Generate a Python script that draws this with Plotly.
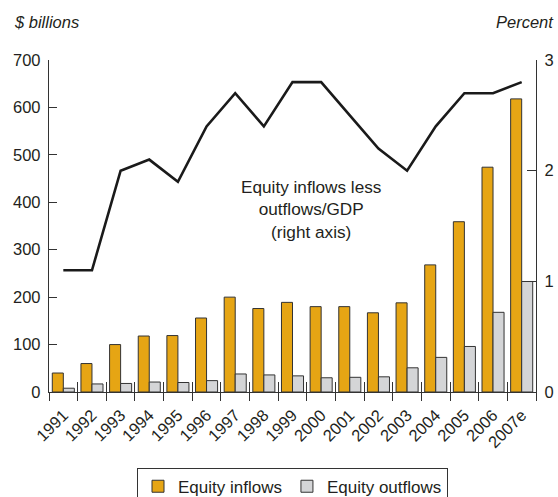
import plotly.graph_objects as go

years = ["1991", "1992", "1993", "1994", "1995", "1996", "1997", "1998", "1999",
         "2000", "2001", "2002", "2003", "2004", "2005", "2006", "2007e"]
inflows = [40, 60, 100, 118, 119, 156, 200, 176, 189, 180, 180, 167, 188, 268, 359, 474, 618]
outflows = [8, 17, 18, 21, 20, 24, 38, 36, 34, 30, 31, 32, 51, 73, 96, 168, 233]
net_gdp = [1.1, 1.1, 2.0, 2.1, 1.9, 2.4, 2.7, 2.4, 2.8, 2.8, 2.5, 2.2, 2.0, 2.4, 2.7, 2.7, 2.8]

FONT = "Liberation Sans, Arial, sans-serif"
TXT = "#231f20"
AX = "#333333"
XR = [-0.5, len(years) - 0.5]

fig = go.Figure()
fig.add_trace(go.Bar(x=years, y=inflows, name="Equity inflows",
                     marker=dict(color="#E6A514", line=dict(color=AX, width=1))))
fig.add_trace(go.Bar(x=years, y=outflows, name="Equity outflows",
                     marker=dict(color="#D4D5D7", line=dict(color=AX, width=1))))
fig.add_trace(go.Scatter(x=years, y=net_gdp, yaxis="y2", mode="lines",
                         line=dict(color="#1a1a1a", width=2.6), showlegend=False))
# invisible helper trace for the inside half of x boundary ticks
fig.add_trace(go.Scatter(x=years, y=[0] * len(years), xaxis="x3", mode="none",
                         showlegend=False, hoverinfo="skip"))

fig.update_layout(
    width=558, height=497,
    margin=dict(l=49, r=22, t=60, b=105, autoexpand=False),
    paper_bgcolor="white", plot_bgcolor="white",
    font=dict(family=FONT, size=16.5, color=TXT),
    barmode="group", bargap=0.23, bargroupgap=0,
    xaxis=dict(type="category", categoryorder="array", categoryarray=years, range=XR,
               ticks="outside", tickson="boundaries",
               ticklen=8, tickcolor=AX, tickwidth=1.3, showline=True, linecolor=AX, linewidth=1.3,
               tickangle=-45, showgrid=False, ticklabelstandoff=6),
    xaxis3=dict(type="category", categoryorder="array", categoryarray=years, range=XR,
                overlaying="x", anchor="y",
                ticks="inside", tickson="boundaries", ticklen=10, tickcolor=AX, tickwidth=1.3,
                showticklabels=False, showline=False, showgrid=False),
    yaxis=dict(range=[0, 700], dtick=100, ticks="inside", ticklen=8, tickcolor=AX, tickwidth=1.3,
               showline=True, linecolor=AX, linewidth=1.3, showgrid=False, zeroline=False,
               ticklabelstandoff=4),
    yaxis2=dict(range=[0, 3], dtick=1, overlaying="y", side="right", ticks="inside", ticklen=9,
                tickcolor=AX, tickwidth=1.3, showline=True, linecolor=AX, linewidth=1.3,
                showgrid=False, zeroline=False, ticklabelstandoff=4),
    legend=dict(orientation="h", x=0.5, xanchor="center", y=-0.228, yanchor="top",
                bordercolor=AX, borderwidth=1, font=dict(size=17), traceorder="normal"),
    showlegend=True,
)

fig.add_annotation(text="<i>$ billions</i>", xref="paper", yref="paper", x=-0.076, y=1.114,
                   xanchor="left", yanchor="middle", showarrow=False, font=dict(size=16.5))
fig.add_annotation(text="<i>Percent</i>", xref="paper", yref="paper", x=1.041, y=1.114,
                   xanchor="right", yanchor="middle", showarrow=False, font=dict(size=16.5))
fig.add_annotation(text="Equity inflows less<br>outflows/GDP<br>(right axis)",
                   xref="paper", yref="paper", x=0.538, y=0.551, xanchor="center", yanchor="middle",
                   showarrow=False, font=dict(size=17.2), align="center")
fig.add_annotation(x="2002", y=2.2, xref="x", yref="y2", text="", showarrow=True,
                   ax=-24, ay=25, arrowhead=2, arrowsize=1.2, arrowwidth=1.2,
                   arrowcolor="#1a1a1a", standoff=3)

fig.write_html("out.html", config={"displayModeBar": False},
               post_script="document.body.style.margin='0';document.body.style.overflow='hidden';")
